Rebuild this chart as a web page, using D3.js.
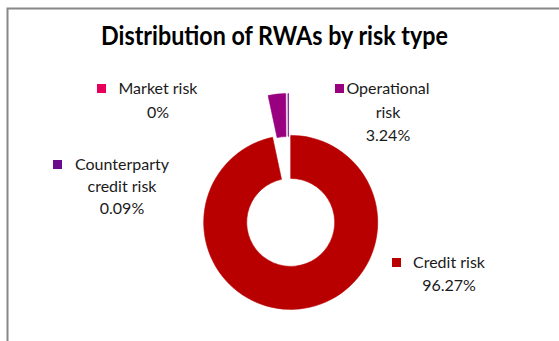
<!DOCTYPE html>
<html><head><meta charset="utf-8">
<script src="https://cdn.jsdelivr.net/npm/d3@7"></script>
<style>html,body{margin:0;padding:0;background:#fff;}svg{display:block;}</style>
</head><body>
<script>
const categories = ["Credit risk", "Market risk", "Operational risk", "Counterparty credit risk"];
const values = [96.27, 0, 3.24, 0.09];
const colors = ["#B90000", "#E6005C", "#990080", "#6E0A8C"];
const labelLines = [["Credit risk", "96.27%"], ["Market risk", "0%"], ["Operational", "risk", "3.24%"], ["Counterparty", "credit risk", "0.09%"]];
const title = "Distribution of RWAs by risk type";

const W = 559, H = 341;
const svg = d3.select("body").append("svg").attr("width", W).attr("height", H);
const font = "Lato, 'Open Sans', sans-serif";

// frame
svg.append("path").attr("d", `M7.5,${H} V8.5 H${W}`).attr("fill", "none").attr("stroke", "#888").attr("stroke-width", 2);

svg.append("text").attr("x", 101).attr("y", 45)
  .attr("font-family", font).attr("font-weight", "bold").attr("font-size", 26)
  .attr("textLength", 347).attr("lengthAdjust", "spacingAndGlyphs")
  .attr("fill", "#000").text(title);

const cx = 288.5, cy = 201.5, rOut = 87, rIn = 44, explode = 21;
const pie = d3.pie().sort(null).value(d => d)(values);
const arc = d3.arc().innerRadius(rIn).outerRadius(rOut);
const g = svg.append("g").attr("transform", `translate(${cx},${cy})`);
g.selectAll("path").data(pie).join("path")
  .attr("d", arc)
  .attr("fill", (d, i) => colors[i])
  .attr("stroke", (d, i) => d.value > 0 ? colors[i] : "none")
  .attr("stroke-width", 0.6)
  .attr("transform", d => {
    const a = (d.startAngle + d.endAngle) / 2;
    return `translate(${explode * Math.sin(a)},${-explode * Math.cos(a)})`;
  });

// labels (legend-key style)
const labelPos = [
  {x: 449, y: 268, sq: 392}, // Credit
  {x: 158, y: 94, sq: 97},   // Market
  {x: 388, y: 94, sq: 335},  // Operational
  {x: 122, y: 170, sq: 53}   // Counterparty
];
const lineH = [23, 24, 23.5, 22];
categories.forEach((c, i) => {
  const p = labelPos[i];
  svg.append("rect").attr("x", p.sq).attr("y", p.y - 10).attr("width", 9).attr("height", 9).attr("fill", colors[i]);
  const t = svg.append("text").attr("font-family", font).attr("font-size", 16).attr("fill", "#1a1a1a").attr("text-anchor", "middle");
  labelLines[i].forEach((ln, k) => {
    t.append("tspan").attr("x", p.x).attr("y", p.y + k * lineH[i]).text(ln);
  });
});
</script>
</body></html>
